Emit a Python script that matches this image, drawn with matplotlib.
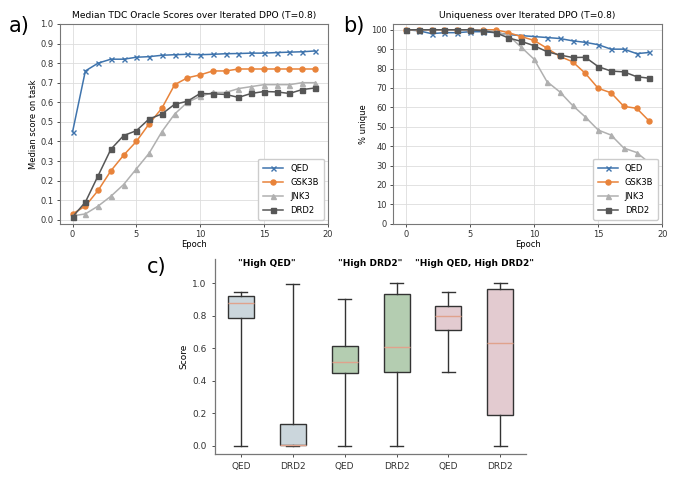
import numpy as np
import matplotlib
matplotlib.use("Agg")
import matplotlib.pyplot as plt

epochs = list(range(20))

# panel a: median oracle scores
qed_score = [0.45, 0.76, 0.80, 0.82, 0.82, 0.83, 0.833, 0.84, 0.843, 0.845,
             0.843, 0.845, 0.848, 0.849, 0.851, 0.851, 0.854, 0.856, 0.858, 0.862]
gsk3b_score = [0.03, 0.07, 0.15, 0.25, 0.33, 0.40, 0.49, 0.57, 0.69, 0.725,
               0.74, 0.76, 0.76, 0.77, 0.77, 0.77, 0.77, 0.77, 0.77, 0.77]
jnk3_score = [0.02, 0.03, 0.07, 0.12, 0.18, 0.26, 0.34, 0.45, 0.54, 0.60,
              0.63, 0.65, 0.65, 0.67, 0.68, 0.69, 0.69, 0.69, 0.70, 0.70]
drd2_score = [0.015, 0.09, 0.225, 0.36, 0.43, 0.455, 0.515, 0.54, 0.59, 0.605,
              0.645, 0.643, 0.64, 0.625, 0.645, 0.655, 0.653, 0.645, 0.665, 0.673]

# panel b: % unique
qed_uniq = [100, 99.5, 98, 98.5, 98.5, 99, 99, 98.5, 97.5, 97,
            96.5, 96, 95.5, 94.3, 93.5, 92.3, 90, 90, 87.7, 88.3]
gsk3b_uniq = [100, 100, 100, 100, 100, 100, 100, 100, 98.5, 96.5,
              94.5, 90.5, 86.3, 83.5, 77.5, 69.8, 67.5, 60.5, 59.5, 52.8]
jnk3_uniq = [100, 100, 100, 100, 100, 100, 99.8, 99, 97, 91,
             84.8, 73.3, 68, 61, 55, 48.3, 45.7, 39, 36.7, 31.3]
drd2_uniq = [100, 100, 100, 100, 100, 100, 99.5, 98.5, 95.8, 94,
             91.8, 88.7, 87, 85.7, 85.8, 81, 78.7, 78.3, 75.8, 75]

# panel c: box stats (whislo, q1, med, q3, whishi)
box_labels = ["QED", "DRD2", "QED", "DRD2", "QED", "DRD2"]
box_whislo = [0.0, 0.0, 0.0, 0.0, 0.455, 0.0]
box_q1 = [0.785, 0.005, 0.445, 0.457, 0.71, 0.19]
box_med = [0.875, 0.008, 0.518, 0.607, 0.795, 0.635]
box_q3 = [0.918, 0.137, 0.615, 0.931, 0.858, 0.961]
box_whishi = [0.946, 0.996, 0.902, 1.0, 0.945, 1.0]
group_names = ['"High QED"', '"High DRD2"', '"High QED, High DRD2"']
box_colors = ["#cbd6dc", "#cbd6dc", "#b4cdb1", "#b4cdb1", "#e3cbd0", "#e3cbd0"]

series_names = ["QED", "GSK3B", "JNK3", "DRD2"]
series_colors = ["#3f74ad", "#e8833a", "#b0b0b0", "#565656"]
series_markers = ["x", "o", "^", "s"]

fig = plt.figure(figsize=(6.8, 4.79), dpi=100)

ax_a = fig.add_axes([0.088, 0.533, 0.394, 0.417])
ax_b = fig.add_axes([0.578, 0.533, 0.396, 0.417])
ax_c = fig.add_axes([0.316, 0.052, 0.458, 0.408])


def line_panel(ax, data, title, ylabel):
    for vals, name, col, mk in zip(data, series_names, series_colors, series_markers):
        ax.plot(epochs, vals, color=col, marker=mk, markersize=3.6,
                linewidth=1.1, label=name)
    ax.set_title(title, fontsize=6.6, pad=4)
    ax.set_xlabel("Epoch", fontsize=6, labelpad=1)
    ax.set_ylabel(ylabel, fontsize=6, labelpad=2)
    ax.set_xticks([0, 5, 10, 15, 20])
    ax.set_xlim(-1, 20)
    ax.tick_params(labelsize=6, length=2.5, width=0.6, pad=2, colors="#333333")
    ax.grid(True, color="#dddddd", linewidth=0.6)
    for s in ax.spines.values():
        s.set_color("#777777")
        s.set_linewidth(0.8)
    ax.legend(loc="lower right", fontsize=6, frameon=True, framealpha=1,
              edgecolor="#cccccc", handlelength=2.4, borderpad=0.6, labelspacing=0.6)


line_panel(ax_a, [qed_score, gsk3b_score, jnk3_score, drd2_score],
           "Median TDC Oracle Scores over Iterated DPO (T=0.8)", "Median score on task")
ax_a.set_ylim(-0.02, 1.0)
ax_a.set_yticks(np.arange(0, 1.01, 0.1))

line_panel(ax_b, [qed_uniq, gsk3b_uniq, jnk3_uniq, drd2_uniq],
           "Uniqueness over Iterated DPO (T=0.8)", "% unique")
ax_b.set_ylim(0, 103)
ax_b.set_yticks(range(0, 101, 10))

# panel c
stats = []
for i in range(len(box_labels)):
    stats.append(dict(whislo=box_whislo[i], q1=box_q1[i], med=box_med[i],
                      q3=box_q3[i], whishi=box_whishi[i], label=box_labels[i]))
bp = ax_c.bxp(stats, showfliers=False, patch_artist=True, widths=0.5,
              boxprops=dict(linewidth=1.0, edgecolor="#333333"),
              whiskerprops=dict(linewidth=1.0, color="#333333"),
              capprops=dict(linewidth=1.0, color="#333333"),
              medianprops=dict(linewidth=1.0, color="#e0a28c"))
for patch, col in zip(bp["boxes"], box_colors):
    patch.set_facecolor(col)
ax_c.set_ylim(-0.05, 1.15)
ax_c.set_yticks([0.0, 0.2, 0.4, 0.6, 0.8, 1.0])
ax_c.set_ylabel("Score", fontsize=6.5, labelpad=3)
ax_c.tick_params(labelsize=6.5, length=2.5, width=0.6, colors="#333333")
ax_c.spines["top"].set_visible(False)
ax_c.spines["right"].set_visible(False)
for s in ["left", "bottom"]:
    ax_c.spines[s].set_color("#777777")
    ax_c.spines[s].set_linewidth(0.9)
for k, name in enumerate(group_names):
    ax_c.text(1.5 + 2 * k, 1.12, name, ha="center", va="center",
              fontsize=6.5, fontweight="bold")

fig.text(0.013, 0.945, "a)", fontsize=15, va="center")
fig.text(0.505, 0.945, "b)", fontsize=15, va="center")
fig.text(0.216, 0.442, "c)", fontsize=15, va="center")

fig.savefig("out.png", dpi=100)
